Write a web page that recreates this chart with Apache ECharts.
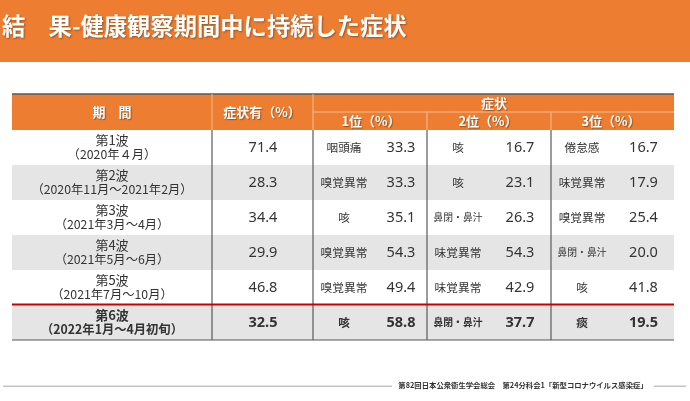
<!DOCTYPE html>
<html>
<head>
<meta charset="utf-8">
<style>html,body{margin:0;padding:0;background:#fff}#main{width:690px;height:401px}</style>
<script src="https://cdn.jsdelivr.net/npm/echarts@6/dist/echarts.min.js"></script>
</head>
<body>
<div id="main"></div>
<script>
const titleText = '結　果-健康観察期間中に持続した症状';
const footerText = '第82回日本公衆衛生学会総会　第24分科会1「新型コロナウイルス感染症」';
const waves = ['第1波', '第2波', '第3波', '第4波', '第5波', '第6波'];
const periods = ['（2020年４月）', '（2020年11月～2021年2月）', '（2021年3月～4月）', '（2021年5月～6月）', '（2021年7月～10月）', '（2022年1月～4月初旬）'];
const symptomPct = ['71.4', '28.3', '34.4', '29.9', '46.8', '32.5'];
const rank1Names = ['咽頭痛', '嗅覚異常', '咳', '嗅覚異常', '嗅覚異常', '咳'];
const rank1Pct = ['33.3', '33.3', '35.1', '54.3', '49.4', '58.8'];
const rank2Names = ['咳', '咳', '鼻閉・鼻汁', '味覚異常', '味覚異常', '鼻閉・鼻汁'];
const rank2Pct = ['16.7', '23.1', '26.3', '54.3', '42.9', '37.7'];
const rank3Names = ['倦怠感', '味覚異常', '嗅覚異常', '鼻閉・鼻汁', '咳', '痰'];
const rank3Pct = ['16.7', '17.9', '25.4', '20.0', '41.8', '19.5'];

const ORANGE = '#ed7d31';
const INK = '#333333';
const RULE = '#595959';
const HEADER_RULE = '#f6be98';
const NUM_FONT = '"Noto Sans", "Noto Sans CJK JP", sans-serif';
const NAME_FONT = '"Noto Sans CJK JP", sans-serif';

// x axis runs in table widths, column edges below
const edges = [0, 200, 301, 415, 539, 662];

const chart = echarts.init(document.getElementById('main'));

function drawText(x, y, text, size, bold, color, family) {
    return {
        type: 'text',
        style: {
            x: x, y: y, text: text,
            align: 'center', verticalAlign: 'middle',
            font: (bold ? 'bold ' : '') + size + 'px ' + family,
            fill: color || INK
        }
    };
}

// one column of body cells
function column(cx, texts, size, family) {
    return {
        type: 'custom', xAxisIndex: 1, yAxisIndex: 1, z: 5, silent: true,
        data: texts.map((t, i) => [cx, i + 0.5]),
        encode: { x: 0, y: 1 },
        renderItem: function (params, api) {
            const i = params.dataIndex;
            const p = api.coord([api.value(0), api.value(1)]);
            const s = typeof size === 'function' ? size(texts[i]) : size;
            return drawText(p[0], p[1], texts[i], s, i === 5, INK, family);
        }
    };
}

const nameSize = t => (t.length > 4 ? 9.8 : 11.7);

// first column has two lines in each cell
const periodColumn = {
    type: 'custom', xAxisIndex: 1, yAxisIndex: 1, z: 5, silent: true,
    data: waves.map((w, i) => [100, i + 0.5]),
    encode: { x: 0, y: 1 },
    renderItem: function (params, api) {
        const i = params.dataIndex;
        const p = api.coord([api.value(0), api.value(1)]);
        return {
            type: 'group',
            children: [
                drawText(p[0], p[1] - 7.5, waves[i], 13, i === 5, INK, NAME_FONT),
                drawText(p[0], p[1] + 7, periods[i], 12.3, i === 5, INK, NAME_FONT)
            ]
        };
    }
};

const bands = {
    type: 'custom', xAxisIndex: 1, yAxisIndex: 1, z: 1, silent: true,
    data: [1, 3, 5].map(r => [0, r]),
    encode: { x: 0, y: 1 },
    renderItem: function (params, api) {
        const a = api.coord([0, api.value(1)]);
        const b = api.coord([662, api.value(1) + 1]);
        return { type: 'rect', shape: { x: a[0], y: a[1], width: b[0] - a[0], height: b[1] - a[1] }, style: { fill: '#e5e5e5' } };
    }
};

// x1, y1, x2, y2 in axis units
function rules(axis, segs, color, width, z) {
    return {
        type: 'custom', xAxisIndex: axis, yAxisIndex: axis, z: z, silent: true,
        data: segs,
        encode: { x: [0, 2], y: [1, 3] },
        renderItem: function (params, api) {
            const a = api.coord([api.value(0), api.value(1)]);
            const b = api.coord([api.value(2), api.value(3)]);
            return { type: 'line', shape: { x1: a[0], y1: a[1], x2: b[0], y2: b[1] }, style: { stroke: color, lineWidth: width } };
        }
    };
}

const headerFill = {
    type: 'custom', xAxisIndex: 0, yAxisIndex: 0, z: 1, silent: true,
    data: [[0, 0]],
    encode: { x: 0, y: 1 },
    renderItem: function (params, api) {
        const a = api.coord([0, 0]);
        const b = api.coord([662, 2]);
        return { type: 'rect', shape: { x: a[0], y: a[1], width: b[0] - a[0], height: b[1] - a[1] }, style: { fill: ORANGE } };
    }
};

const headerCells = [
    [100, 1, '期　間'],
    [250, 1, '症状有（%）'],
    [482, 0.5, '症状'],
    [359, 1.5, '1位（%）'],
    [476, 1.5, '2位（%）'],
    [599, 1.5, '3位（%）']
];
const headerText = {
    type: 'custom', xAxisIndex: 0, yAxisIndex: 0, z: 5, silent: true,
    data: headerCells.map(c => [c[0], c[1]]),
    encode: { x: 0, y: 1 },
    renderItem: function (params, api) {
        const p = api.coord([api.value(0), api.value(1)]);
        const el = drawText(p[0], p[1], headerCells[params.dataIndex][2], 13, true, '#ffffff', NAME_FONT);
        el.style.textShadowColor = 'rgba(0,0,0,0.35)';
        el.style.textShadowBlur = 1;
        el.style.textShadowOffsetX = 1;
        el.style.textShadowOffsetY = 1;
        return el;
    }
};

const option = {
    animation: false,
    backgroundColor: '#ffffff',
    title: {
        text: titleText, left: 2, top: 15, padding: 0,
        textStyle: {
            color: '#ffffff', fontSize: 23.3, fontWeight: 'bold', fontFamily: NAME_FONT,
            textShadowColor: 'rgba(0,0,0,0.35)', textShadowBlur: 2, textShadowOffsetX: 1, textShadowOffsetY: 1
        }
    },
    graphic: [
        { type: 'rect', z: -10, shape: { x: 0, y: 0, width: 690, height: 62 }, style: { fill: ORANGE } },
        { type: 'rect', shape: { x: 3, y: 385.5, width: 389, height: 1.5 }, style: { fill: '#c4c4c4' } },
        { type: 'rect', shape: { x: 654, y: 385.5, width: 32, height: 1.5 }, style: { fill: '#c4c4c4' } },
        { type: 'text', x: 523, y: 385, style: { text: footerText, align: 'center', verticalAlign: 'middle', font: 'bold 7.35px ' + NAME_FONT, fill: '#333333' } }
    ],
    grid: [
        { left: 12, top: 94, width: 662, height: 36 },
        { left: 12, top: 130, width: 662, height: 210 }
    ],
    xAxis: [
        { type: 'value', gridIndex: 0, min: 0, max: 662, show: false },
        { type: 'value', gridIndex: 1, min: 0, max: 662, show: false }
    ],
    yAxis: [
        { type: 'value', gridIndex: 0, min: 0, max: 2, inverse: true, show: false },
        { type: 'value', gridIndex: 1, min: 0, max: 6, inverse: true, show: false }
    ],
    series: [
        headerFill,
        bands,
        rules(0, [[0, 0, 662, 0]], RULE, 1.5, 3),
        rules(0, [[200, 0, 200, 2], [301, 0, 301, 2], [301, 1, 662, 1], [415, 1, 415, 2], [539, 1, 539, 2]], HEADER_RULE, 1, 3),
        rules(1, edges.slice(1, 5).map(x => [x, 0, x, 6]), RULE, 1.2, 3),
        rules(1, [[0, 6, 662, 6]], RULE, 1.2, 3),
        rules(1, [[0, 4.985, 662, 4.985]], '#cc0000', 2, 4),
        headerText,
        periodColumn,
        column(251, symptomPct, 14.5, NUM_FONT),
        column(332, rank1Names, nameSize, NAME_FONT),
        column(389, rank1Pct, 14.5, NUM_FONT),
        column(446, rank2Names, nameSize, NAME_FONT),
        column(508, rank2Pct, 14.5, NUM_FONT),
        column(570, rank3Names, nameSize, NAME_FONT),
        column(631.5, rank3Pct, 14.5, NUM_FONT)
    ]
};

chart.setOption(option);
</script>
</body>
</html>
